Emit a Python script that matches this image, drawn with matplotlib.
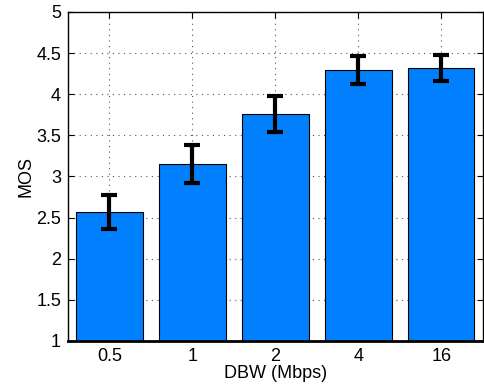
import matplotlib.pyplot as plt

# MOS por largura de banda (DBW)
rotulos = ["0.5", "1", "2", "4", "16"]
mos = [2.57, 3.15, 3.76, 4.29, 4.32]
erro = [0.21, 0.23, 0.22, 0.17, 0.16]

plt.rcParams['font.family'] = ['Liberation Sans', 'DejaVu Sans']
plt.rcParams['font.size'] = 13

fig = plt.figure(figsize=(4.84, 3.87), dpi=100)
ax = fig.add_axes([0.1405, 0.119, 0.857, 0.850])

pos = list(range(1, len(mos) + 1))
ax.bar(pos, mos, width=0.8, bottom=0, color='#0080ff', edgecolor='black',
       linewidth=0.8, zorder=2)
ax.errorbar(pos, mos, yerr=erro, fmt='none', ecolor='black', elinewidth=3,
            capsize=6, capthick=3, zorder=3)

ax.set_xlim(0.5, 5.5)
ax.set_ylim(1, 5)
ax.set_xticks(pos)
ax.set_xticklabels(rotulos)
ax.set_yticks([1, 1.5, 2, 2.5, 3, 3.5, 4, 4.5, 5])
ax.set_yticklabels(["1", "1.5", "2", "2.5", "3", "3.5", "4", "4.5", "5"])
ax.tick_params(direction='in', top=True, right=True, length=4, pad=5)
ax.grid(True, linestyle=(0, (1, 4)), color='#555555', linewidth=0.8, zorder=0)
ax.set_axisbelow(True)
for s in ax.spines.values():
    s.set_linewidth(1.0)
    s.set_zorder(4)
ax.spines['bottom'].set_linewidth(2)

ax.set_xlabel("DBW (Mbps)", labelpad=0)
ax.set_ylabel("MOS", labelpad=1)

fig.savefig("out.png", dpi=100)
